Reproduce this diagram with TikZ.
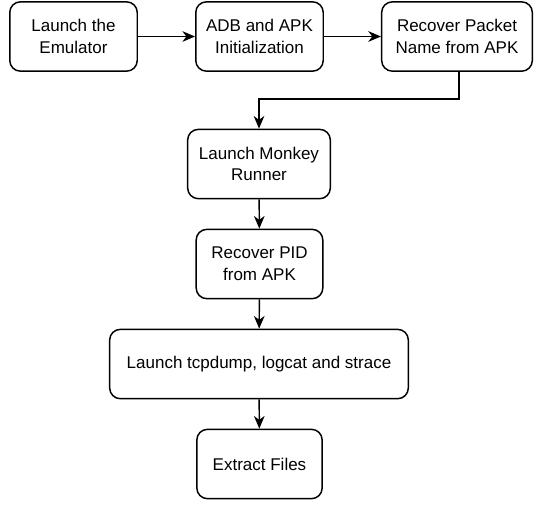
\documentclass[tikz,border=0pt]{standalone}
\usepackage{fontspec}
\setmainfont{Liberation Sans}
\usetikzlibrary{positioning, arrows.meta, calc}

\begin{document}
\begin{tikzpicture}[x=0.75pt, y=-0.75pt,
  stage/.style={draw, rectangle, rounded corners=8pt, fill=white, line width=1.1pt, align=center, inner sep=0pt, minimum height=52pt, font=\fontsize{12.75}{16.3}\selectfont},
  flow/.style={-{Stealth[length=9.5pt, width=8pt, inset=3pt]}, line width=1.1pt}]
\useasboundingbox (0,0) rectangle (534,504);
\node[stage, minimum width=95.6pt] (emu) at (73.5,36.5) {Launch the\\Emulator};
\node[stage, minimum width=95.6pt] (adb) at (259.5,36.5) {ADB and APK\\Initialization};
\node[stage, minimum width=113pt] (pkt) at (457,36.5) {Recover Packet\\Name from APK};
\node[stage, minimum width=107pt] (monkey) at (259,164) {Launch Monkey\\Runner};
\node[stage, minimum width=95pt] (pid) at (259.5,264) {Recover PID\\from APK};
\node[stage, minimum width=224pt] (dump) at (259,364) {Launch tcpdump, logcat and strace};
\node[stage, minimum width=94pt] (files) at (259.5,464) {Extract Files};
\coordinate (turn) at (459,99);
\draw[flow] (emu) -- (adb); \draw[flow] (adb) -- (pkt);
\draw[flow] (turn |- pkt.south) -- (turn) -| (monkey.north);
\draw[flow] (monkey) -- (pid); \draw[flow] (pid) -- (dump); \draw[flow] (dump) -- (files);
\end{tikzpicture}
\end{document}
